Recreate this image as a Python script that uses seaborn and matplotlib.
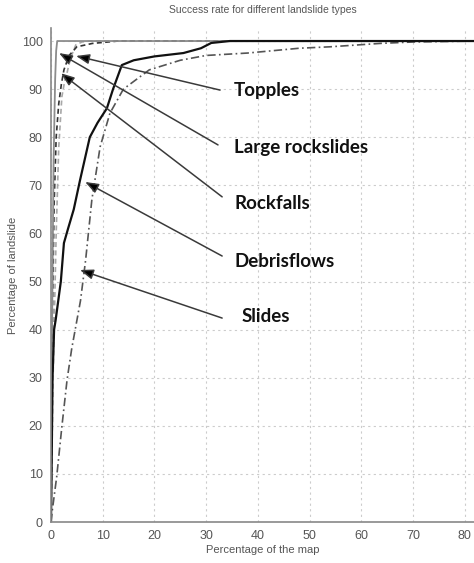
import matplotlib.pyplot as plt
import seaborn as sns
import pandas as pd

# curve values (percentage of map -> percentage of landslides)
topples_x = [0, 0.4, 1.0, 1.5, 2.1, 2.7, 3.1, 3.8, 4.8, 6.0, 7.5, 82]
topples_y = [0, 30, 60, 78, 88.4, 92, 93.4, 96.5, 99.2, 99.8, 100, 100]

large_rock_x = [0, 0.2, 0.5, 0.8, 1.0, 1.2, 82]
large_rock_y = [0, 40, 75, 92, 98, 100, 100]

rockfalls_x = [0, 0.2, 0.3, 0.6, 1.0, 1.5, 2.0, 2.5, 3.5, 5.0, 8.0, 13.0, 82]
rockfalls_y = [0, 30, 45, 66, 80, 87, 91, 94, 97, 98.8, 99.5, 100, 100]

debris_x = [0, 0.3, 0.6, 0.9, 1.9, 2.5, 3.3, 4.4, 5.6, 7.5, 9.0, 10.8, 12.0, 13.7,
            16.0, 20.0, 25.6, 29.0, 31.0, 34.6, 82]
debris_y = [0, 30, 40, 42, 50, 58, 61, 65, 71, 80, 83, 86, 90, 95,
            96, 96.8, 97.5, 98.5, 99.6, 100, 100]

slides_x = [0, 0.2, 1.1, 2.1, 3.1, 4.0, 5.7, 6.7, 7.9, 9.5, 11.4, 14.0, 19.0, 25.0,
            30.0, 38.0, 48.0, 54.0, 63.6, 70.0, 82]
slides_y = [0, 2, 9.4, 19.8, 29.5, 36, 46, 54.5, 67, 78, 85, 90, 94, 96,
            97, 97.5, 98.5, 98.8, 99.5, 99.8, 100]

# annotation labels: text position, arrow tail, arrow head (data units)
labels = ['Topples', 'Large rockslides', 'Rockfalls', 'Debrisflows', 'Slides']
label_x = [35.4, 35.4, 35.4, 35.4, 36.9]
label_y = [89.8, 77.8, 66.3, 54.1, 42.8]
tail_x = [32.7, 32.3, 33.1, 33.1, 33.1]
tail_y = [89.8, 78.4, 67.6, 55.3, 42.4]
head_x = [4.84, 1.55, 1.93, 6.6, 5.6]
head_y = [96.9, 97.5, 93.3, 70.7, 52.4]

x_ticks = list(range(0, 90, 10))
y_ticks = list(range(0, 110, 10))

sns.set_style("white")
plt.rcParams['font.family'] = ['Liberation Sans', 'DejaVu Sans']

fig = plt.figure(figsize=(4.74, 5.63), dpi=100)
ax = fig.add_axes([0.1076, 0.0728, 0.8945, 0.8774])

series = [
    (slides_x, slides_y, '#555555', (0, (5, 2, 1, 2)), 1.2),
    (topples_x, topples_y, '#a8a8a8', (0, (3, 2)), 1.2),
    (rockfalls_x, rockfalls_y, '#333333', (0, (3, 2)), 1.2),
    (large_rock_x, large_rock_y, '#8c8c8c', '-', 1.3),
    (debris_x, debris_y, '#111111', '-', 1.6),
]
for xs, ys, col, ls, lw in series:
    df = pd.DataFrame({'x': xs, 'y': ys})
    sns.lineplot(data=df, x='x', y='y', ax=ax, color=col, linestyle=ls,
                 linewidth=lw, estimator=None, sort=False)

for i, lab in enumerate(labels):
    ax.annotate('', xy=(head_x[i], head_y[i]), xytext=(tail_x[i], tail_y[i]),
                arrowprops=dict(arrowstyle='-|>,head_length=0.8,head_width=0.3',
                                color='#3a3a3a', lw=1.1, shrinkA=0, shrinkB=0,
                                fc='black'))
    ax.text(label_x[i], label_y[i], lab, fontsize=13.5, fontweight='bold',
            family=['Lato', 'DejaVu Sans'], color='#111111', va='center', ha='left')

ax.set_xlim(0, 82)
ax.set_ylim(0, 102.7)
ax.set_xticks(x_ticks)
ax.set_yticks(y_ticks)
ax.grid(True, color='#cccccc', linestyle=(0, (2, 3)), linewidth=0.8)
ax.tick_params(axis='both', direction='out', length=4, width=0.8, color='#777777',
               labelsize=9, labelcolor='#555555', pad=2)
for side in ['top', 'right']:
    ax.spines[side].set_visible(False)
for side in ['left', 'bottom']:
    ax.spines[side].set_color('#888888')
    ax.spines[side].set_linewidth(1.2)

ax.set_xlabel('Percentage of the map', fontsize=8, color='#555555', labelpad=2)
ax.set_ylabel('Percentage of landslide', fontsize=8, color='#555555', labelpad=3)
ax.set_title('Success rate for different landslide types', fontsize=7.5,
             color='#555555', pad=11)

fig.savefig('out.png', dpi=100)
